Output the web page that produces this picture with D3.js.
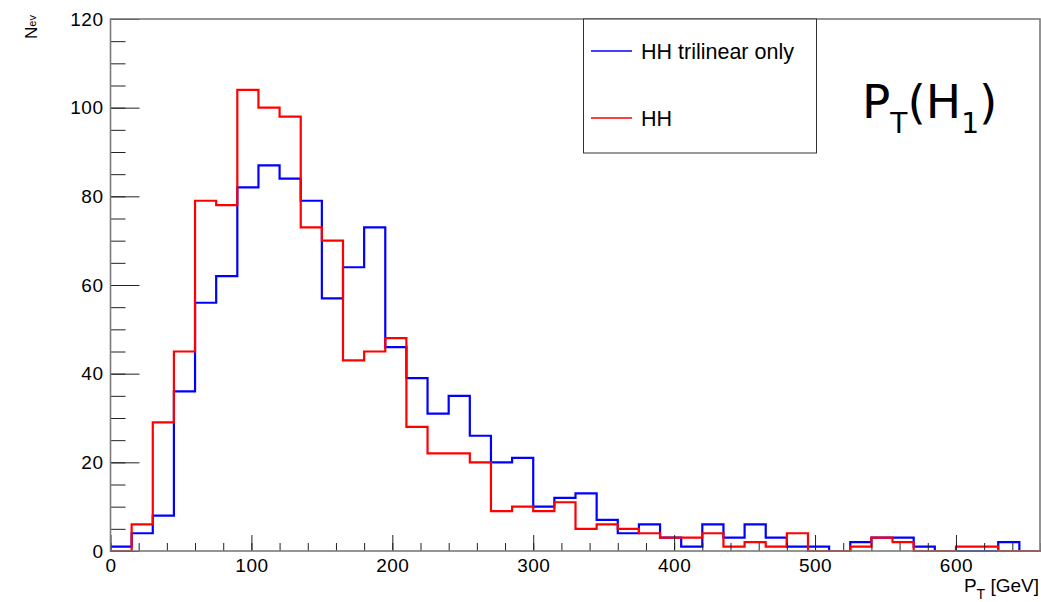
<!DOCTYPE html>
<html>
<head>
<meta charset="utf-8">
<script src="https://cdn.jsdelivr.net/npm/d3@7"></script>
<style>
  html, body { margin: 0; padding: 0; background: #fff; }
  svg { display: block; }
  text { font-family: "Liberation Sans", Arial, sans-serif; fill: #000; }
</style>
</head>
<body>
<svg id="chart" width="1041" height="602"></svg>
<script>
// ---- data ----
const binWidth = 15;              // GeV
const xDomain = [0, 660];
const yDomain = [0, 120];
const seriesNames = ["HH trilinear only", "HH"];
const seriesColors = ["#0000ff", "#ff0000"];
const trilinearOnly = [1,4,8,36,56,62,82,87,84,79,57,64,73,46,39,31,35,26,20,21,10,12,13,7,4,6,3,1,6,3,6,3,1,1,0,2,3,3,1,0,0,0,2,0];
const hhFull        = [0,6,29,45,79,78,104,100,98,73,70,43,45,48,28,22,22,20,9,10,9,11,5,6,5,4,3,3,4,1,2,1,4,0,0,1,3,2,0,0,1,1,0,0];
const xMajorTicks = [0,100,200,300,400,500,600];
const yMajorTicks = [0,20,40,60,80,100,120];

// ---- layout ----
const svg = d3.select("#chart");
const L = 110.5, R = 1040.5, T = 19, B = 551;
const x = d3.scaleLinear().domain(xDomain).range([L, R]);
const y = d3.scaleLinear().domain(yDomain).range([B, T]);

const binEdges = d3.range(xDomain[0], xDomain[1] + 1, binWidth);

function histPath(vals) {
  const pts = vals.map((v, i) => [binEdges[i], v]);
  pts.push([binEdges[vals.length], vals[vals.length - 1]]);
  return d3.line().x(d => x(d[0])).y(d => y(d[1])).curve(d3.curveStepAfter)(pts);
}

// histograms (blue first, red on top)
[trilinearOnly, hhFull].forEach((vals, k) => {
  svg.append("path")
    .attr("d", histPath(vals))
    .attr("fill", "none")
    .attr("stroke", seriesColors[k])
    .attr("stroke-width", 2.2);
});

// ---- axes ----
function styleAxis(g) {
  g.select(".domain").remove();
  g.selectAll(".tick line").attr("stroke", "#222").attr("stroke-width", 1);
}
// x minor ticks
svg.append("g").attr("transform", `translate(0,${B})`)
  .call(d3.axisBottom(x).tickValues(d3.range(0, 661, 20)).tickSize(-8).tickFormat(""))
  .call(styleAxis);
// x major ticks
const gx = svg.append("g").attr("transform", `translate(0,${B})`)
  .call(d3.axisBottom(x).tickValues(xMajorTicks).tickSize(-16).tickPadding(8).tickFormat(d3.format("d")))
  .call(styleAxis);
gx.selectAll("text").attr("font-size", 19).attr("font-family", "Liberation Sans, Arial, sans-serif").attr("letter-spacing", "0.5px");

// y minor ticks
svg.append("g").attr("transform", `translate(${L},0)`)
  .call(d3.axisLeft(y).tickValues(d3.range(0, 121, 5)).tickSize(-15).tickFormat(""))
  .call(styleAxis);
// y major ticks
const gy = svg.append("g").attr("transform", `translate(${L},0)`)
  .call(d3.axisLeft(y).tickValues(yMajorTicks).tickSize(-29).tickPadding(7).tickFormat(d3.format("d")))
  .call(styleAxis);
gy.selectAll("text").attr("font-size", 19).attr("font-family", "Liberation Sans, Arial, sans-serif").attr("letter-spacing", "0.5px");

// frame
svg.append("rect")
  .attr("x", L).attr("y", T).attr("width", R - L - 0.5).attr("height", B - T)
  .attr("fill", "none").attr("stroke", "#7a7a7a").attr("stroke-width", 1.6);

// axis titles
const xt = svg.append("text").attr("x", 1039).attr("y", 592).attr("text-anchor", "end").attr("font-size", 19);
xt.append("tspan").text("P");
xt.append("tspan").attr("dy", 7).attr("font-size", 14).text("T");
xt.append("tspan").attr("dy", -7).text(" [GeV]");

const yt = svg.append("text").attr("transform", "translate(37,39) rotate(-90)").attr("font-size", 17);
yt.append("tspan").text("N");
yt.append("tspan").attr("dy", -1).attr("font-size", 11).text("ev");

// legend
const lg = svg.append("g");
lg.append("rect").attr("x", 583.5).attr("y", 19).attr("width", 233).attr("height", 134)
  .attr("fill", "#fff").attr("stroke", "#333").attr("stroke-width", 1);
const legendY = [51, 118];
seriesNames.forEach((name, k) => {
  lg.append("line").attr("x1", 591).attr("x2", 632).attr("y1", legendY[k]).attr("y2", legendY[k])
    .attr("stroke", seriesColors[k]).attr("stroke-width", 1.5);
  lg.append("text").attr("x", 641).attr("y", legendY[k]).attr("dy", "0.36em")
    .attr("font-size", 21.5).text(name);
});

// plot label P_T(H_1)
const pl = svg.append("text").attr("x", 862).attr("y", 118).attr("font-size", 47)
  .style("font-family", "'DejaVu Sans', sans-serif");
pl.append("tspan").text("P");
pl.append("tspan").attr("dy", 15).attr("font-size", 28).text("T");
pl.append("tspan").attr("dy", -15).text("(H");
pl.append("tspan").attr("dy", 15).attr("font-size", 28).text("1");
pl.append("tspan").attr("dy", -15).text(")");
</script>
</body>
</html>
